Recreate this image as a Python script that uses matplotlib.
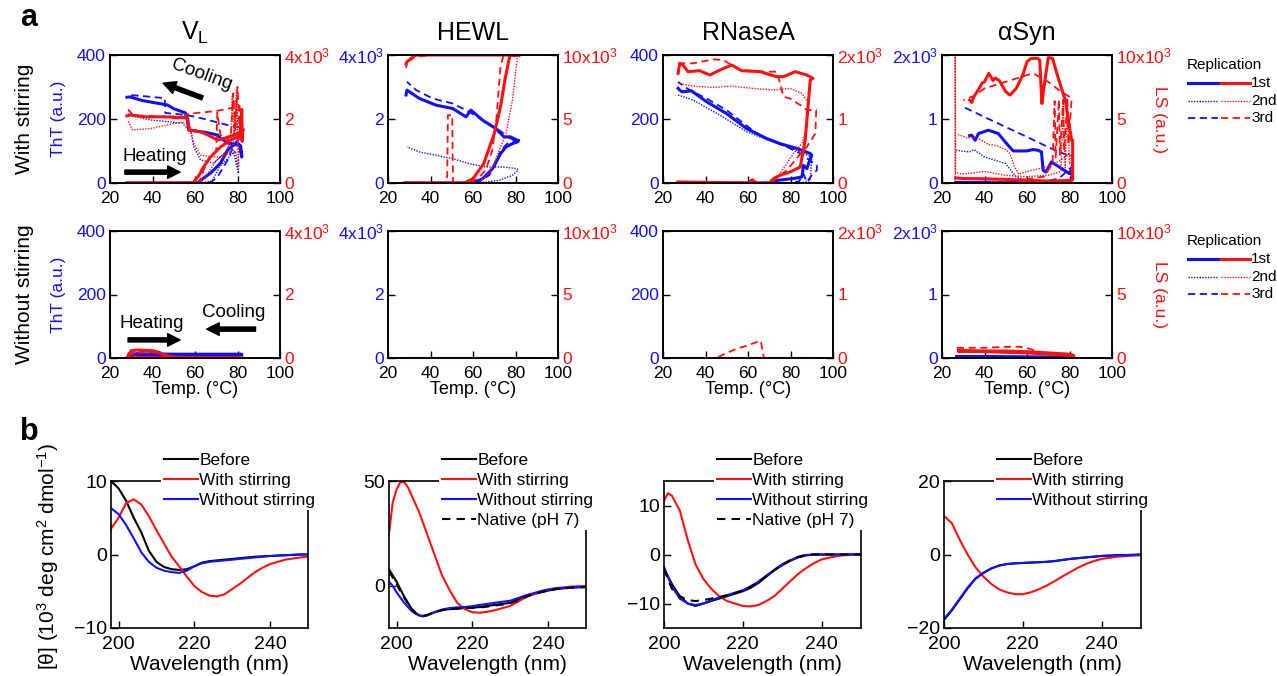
import matplotlib
matplotlib.use('Agg')
import matplotlib.pyplot as plt
from matplotlib.lines import Line2D

plt.rcParams['font.family'] = ['Liberation Sans', 'DejaVu Sans']
plt.rcParams['mathtext.default'] = 'regular'

W, H = 1277, 676
BLUE = '#1010ff'
RED = '#ff1010'

# ---------------- data: thermal scans, WITH stirring ----------------
# V_L (ThT 0-400, LS 0-4000)
VL_S_THT1_T = [28, 45, 60, 61, 64, 67.3, 72, 75.4, 78.2, 80, 81.5, 82, 82, 81, 79.2, 77, 75.4, 72, 70.6, 65, 60, 57, 56.4, 55.5, 50, 47, 40, 35, 32, 29.5, 28]
VL_S_THT1_V = [0, 0, 0, 0, 15, 31, 62, 103, 119, 125, 115, 85, 81, 118, 119, 124, 125, 140, 150, 158, 163, 166, 200, 219, 232, 244, 252, 258, 264, 269, 268]
VL_S_THT2_T = [28, 45, 60, 68, 71.5, 76, 79, 80.5, 80.5, 79.6, 77, 74, 68.8, 62.6, 59.5, 58, 54, 39, 30, 28.5]
VL_S_THT2_V = [0, 0, 0, 5, 50, 81, 100, 40, 30, 55, 127, 94, 62, 72, 112, 160, 187, 197, 210, 218]
VL_S_THT3_T = [28, 45, 60, 66, 68, 70.6, 75.4, 78, 80, 82, 83, 83, 78, 75.4, 62.6, 56.4, 46, 45.8, 38, 29.5, 28]
VL_S_THT3_V = [0, 0, 0, 0, 5, 19, 72, 115, 135, 150, 165, 172, 178, 181, 203, 212, 219, 265, 270, 275, 272]
VL_S_LS1_T = [28, 45, 58, 59.3, 62, 64, 67.3, 72, 76.8, 80, 81.5, 82, 82.2, 81.8, 81, 80, 78.2, 74, 70.6, 66, 62.6, 57.2, 56.6, 50, 45, 37.5, 33, 29.5, 28]
VL_S_LS1_V = [0, 0, 0, 20, 250, 500, 812, 1125, 1344, 1437, 1500, 2300, 1300, 2000, 1400, 1550, 1500, 1400, 1344, 1500, 1600, 1656, 2030, 2060, 2070, 2062, 2100, 2125, 2100]
VL_S_LS2_T = [28, 50, 62, 66, 70, 75, 77, 77.5, 78.5, 79.5, 80.5, 80.5, 79.5, 78, 77, 73, 68.8, 62.6, 59.5, 57.5, 54, 39, 30.5, 28.5]
VL_S_LS2_V = [0, 0, 0, 300, 700, 1000, 1400, 2700, 1500, 2900, 1000, 500, 2600, 1200, 1000, 810, 810, 870, 1230, 1800, 1910, 1700, 1656, 1960]
VL_S_LS3_T = [28, 50, 62, 64, 67, 70, 70.5, 72, 75, 77, 78, 79, 80, 81, 81, 80, 77.8, 70, 62.6, 56, 54, 39, 31, 28.5]
VL_S_LS3_V = [0, 0, 0, 400, 800, 1000, 2200, 1500, 1300, 1600, 2800, 1600, 3000, 1800, 2400, 2300, 2350, 2250, 2200, 2150, 2000, 2100, 2100, 2300]

# HEWL (ThT 0-4000, LS 0-10000)
HEWL_S_THT1_T = [28, 45, 60, 64.5, 69.2, 73, 75.5, 78.6, 81, 81.5, 80.8, 77.7, 74.6, 70.7, 64.5, 59, 56.7, 50.4, 42.6, 34.8, 28.9, 28.5]
HEWL_S_THT1_V = [0, 0, 0, 135, 449, 919, 1128, 1232, 1285, 1330, 1337, 1441, 1441, 1702, 1963, 2277, 2068, 2329, 2433, 2642, 2903, 2750]
HEWL_S_THT2_T = [28, 50, 62, 72.3, 78.6, 81.2, 80.8, 73.9, 66, 58.2, 50.4, 42.6, 34.8, 28.9]
HEWL_S_THT2_V = [0, 0, 0, 84, 240, 397, 449, 501, 501, 606, 762, 867, 971, 1128]
HEWL_S_THT3_T = [28, 45, 62, 67.6, 70.7, 73, 76.2, 80, 81.5, 80, 77.7, 72.3, 66, 58.2, 50.4, 41, 33.3, 28.9]
HEWL_S_THT3_V = [0, 0, 0, 240, 606, 1023, 1232, 1337, 1350, 1340, 1389, 1650, 1911, 2224, 2486, 2642, 2903, 3165]
HEWL_S_LS1_T = [28, 50, 56, 60, 65, 70, 73, 75, 77, 77.5, 82, 60, 40, 33, 31, 29, 28.5]
HEWL_S_LS1_V = [0, 0, 0, 340, 1500, 3860, 6000, 8040, 9700, 10000, 10000, 10000, 10000, 10000, 9700, 9500, 9300]
HEWL_S_LS2_T = [28, 55, 62, 66, 69.2, 75.5, 78.6, 81, 82, 40, 31, 29, 28.5]
HEWL_S_LS2_V = [0, 0, 0, 500, 1253, 3860, 6475, 10000, 10000, 10000, 9900, 9500, 9200]
HEWL_S_LS3_T = [28, 47.8, 48.2, 50.2, 50.6, 58, 62, 66, 69, 71, 73, 74.5, 82, 40, 31, 29, 28.5]
HEWL_S_LS3_V = [0, 0, 5300, 5300, 0, 0, 300, 1000, 2500, 5000, 9200, 10000, 10000, 10000, 9800, 9400, 9000]

# RNaseA (ThT 0-400, LS 0-2000)
RN_S_THT1_T = [27, 40, 60, 70, 73.5, 81.4, 85.4, 86.1, 87.7, 88.5, 89.6, 90, 89.3, 83, 75.1, 68.8, 59.4, 49.9, 40.5, 33.4, 29, 27.9, 27.1]
RN_S_THT1_V = [0, 0, 0, 0, 8, 14, 19, 55, 45, 61, 81, 87, 92, 108, 123, 139, 170, 217, 254, 288, 285, 290, 296]
RN_S_THT2_T = [27, 60, 85, 89.3, 90, 83, 72, 59.4, 46.8, 34.2, 27.1]
RN_S_THT2_V = [0, 0, 0, 8, 81, 102, 128, 160, 212, 259, 275]
RN_S_THT3_T = [27, 50, 80, 84, 86.1, 87.7, 90, 92.4, 92.4, 84.6, 78.3, 65, 49.9, 40.5, 32.6, 27.1]
RN_S_THT3_V = [0, 0, 0, 5, 29, 3, 24, 40, 55, 92, 113, 150, 228, 264, 290, 316]
RN_S_LS1_T = [27, 40, 60, 62, 64, 70, 72, 75, 79.8, 84.6, 86.9, 88.5, 89.3, 90.6, 87.7, 82.2, 76.7, 73.5, 65.7, 57, 52.3, 46.8, 42, 37.3, 31.8, 29.4, 27.9, 27.1]
RN_S_LS1_V = [16, 10, 0, 50, 0, 0, 68, 120, 172, 250, 668, 1295, 1608, 1634, 1687, 1739, 1661, 1661, 1739, 1755, 1843, 1765, 1687, 1755, 1739, 1843, 1870, 1713]
RN_S_LS2_T = [27, 50, 72, 75, 81.4, 85.4, 87.7, 88.5, 85.4, 79.8, 72, 62.5, 51.5, 43.6, 34.2, 27.1]
RN_S_LS2_V = [0, 0, 0, 146, 460, 616, 877, 1243, 1399, 1478, 1452, 1478, 1514, 1493, 1514, 1556]
RN_S_LS3_T = [27, 50, 70, 78.3, 85.4, 87.7, 91.7, 92.1, 91.7, 87.7, 84.6, 79.8, 76.7, 75.1, 73.5, 68.8, 56.2, 52.3, 48.3, 43.6, 34.2, 27.1]
RN_S_LS3_V = [0, 0, 0, 198, 486, 564, 773, 1138, 1138, 1138, 1217, 1321, 1347, 1556, 1739, 1739, 1765, 1843, 1922, 1932, 1870, 1870]

# alphaSyn (ThT 0-2000, LS 0-10000)
AS_S_THT1_T = [26.5, 40, 60, 80, 81.5, 80.8, 80, 71.5, 69, 67.6, 66.8, 65.2, 62.9, 59.8, 53.5, 50.4, 46.5, 41.8, 39.5, 37.2, 35.6, 34, 33]
AS_S_THT1_V = [10, 10, 5, 5, 60, 198, 146, 329, 172, 198, 486, 512, 522, 501, 501, 616, 773, 825, 799, 773, 668, 747, 740]
AS_S_THT2_T = [26.5, 50, 70, 80, 81, 80, 70, 60, 55, 53, 50, 45, 40, 35, 33, 29, 27, 26.5]
AS_S_THT2_V = [0, 0, 0, 5, 20, 10, 10, 42, 94, 172, 303, 355, 407, 522, 486, 500, 512, 480]
AS_S_THT3_T = [26.5, 50, 65, 75, 81, 81.5, 80.8, 70, 60, 50, 40, 30]
AS_S_THT3_V = [0, 0, 0, 70, 250, 450, 407, 560, 720, 875, 1030, 1190]
AS_S_LS1_T = [26.5, 30, 40, 50, 60, 70, 80, 81.5, 81.5, 81, 80, 78, 75, 72, 70, 68, 67, 66, 65, 62, 60, 58, 55, 52, 50, 47, 45, 44, 43, 42, 40, 39, 37, 35, 34, 33]
AS_S_LS1_V = [400, 350, 330, 280, 220, 150, 200, 300, 3340, 3340, 4390, 6475, 8040, 9740, 9800, 7520, 6210, 9600, 9740, 9740, 9480, 8430, 7400, 6870, 7130, 8000, 8200, 8000, 8300, 8560, 7900, 7830, 7260, 6736, 6300, 6475]
AS_S_LS2_T = [26.2, 26.2, 26.4, 30, 40, 50, 60, 70, 76, 77, 78, 79, 80, 81, 80, 75, 70, 65, 60, 56, 54, 52, 50, 46, 42, 38, 35, 32, 29, 27]
AS_S_LS2_V = [0, 10000, 800, 700, 900, 600, 500, 600, 900, 6400, 1200, 6200, 1500, 1800, 2300, 1700, 1300, 1100, 900, 700, 1300, 2300, 2600, 2900, 3000, 3400, 3600, 3500, 3700, 3800]
AS_S_LS3_T = [26.5, 40, 60, 68, 72, 73, 73.5, 75, 75.5, 77, 77.5, 79, 79.5, 81, 81, 80, 75, 70, 63, 60, 50, 40, 35, 30]
AS_S_LS3_V = [0, 0, 300, 500, 1500, 6400, 2000, 6500, 2200, 6500, 2500, 6500, 3000, 6600, 6600, 6736, 7260, 7900, 8560, 8430, 7910, 7390, 6800, 6475]

# ---------------- data: thermal scans, WITHOUT stirring ----------------
VL_N_THT1_T = [29, 50, 82, 82, 50, 29]
VL_N_THT1_V = [8, 8, 8, 12, 12, 13]
VL_N_THT2_T = [29, 82, 29]
VL_N_THT2_V = [4, 5, 6]
VL_N_THT3_T = [29, 82, 29]
VL_N_THT3_V = [10, 10, 15]
VL_N_LS1_T = [28, 30, 33, 36, 40, 43, 46, 50, 60, 70, 82, 82, 60, 40, 30, 28]
VL_N_LS1_V = [0, 230, 250, 240, 230, 180, 90, 30, 10, 5, 0, 0, 5, 10, 20, 0]
VL_N_LS2_T = [28, 35, 40, 45, 50, 82]
VL_N_LS2_V = [0, 150, 150, 100, 20, 0]
VL_N_LS3_T = [28, 35, 42, 48, 82]
VL_N_LS3_V = [100, 200, 180, 40, 0]

HEWL_N_THT1_T = [28, 84]
HEWL_N_THT1_V = [0, 0]
HEWL_N_LS1_T = [28, 84]
HEWL_N_LS1_V = [0, 0]

RN_N_THT1_T = [24, 91]
RN_N_THT1_V = [0, 0]
RN_N_LS1_T = [24, 91]
RN_N_LS1_V = [0, 0]
RN_N_LS3_T = [24, 45, 50, 55, 60, 64, 66, 67.5, 91]
RN_N_LS3_V = [0, 0, 80, 150, 200, 250, 270, 0, 0]

AS_N_THT1_T = [27, 82, 27]
AS_N_THT1_V = [20, 10, 15]
AS_N_LS1_T = [28, 40, 50, 60, 70, 80, 82, 70, 60, 50, 40, 28]
AS_N_LS1_V = [500, 550, 550, 500, 400, 300, 200, 300, 400, 450, 500, 600]
AS_N_LS2_T = [27, 40, 60, 82]
AS_N_LS2_V = [700, 600, 400, 150]
AS_N_LS3_T = [27, 40, 50, 56, 60, 65, 80]
AS_N_LS3_V = [800, 800, 880, 890, 800, 500, 200]

# ---------------- data: CD spectra ----------------
VL_WL = [198, 200, 202, 204, 206, 208, 210, 212, 214, 216, 218, 220, 222, 224, 226, 228, 230, 232, 234, 236, 238, 240, 244, 248, 250]
VL_BEFORE = [10, 9, 7.3, 5, 3, 0.5, -1.0, -1.7, -2.0, -2.1, -2.0, -1.6, -1.1, -0.9, -0.8, -0.7, -0.6, -0.5, -0.4, -0.3, -0.25, -0.2, -0.1, 0, 0]
VL_WITH = [3.5, 5, 7, 7.5, 6.8, 5.2, 3.3, 1.5, -0.3, -1.6, -3.0, -4.3, -5.1, -5.6, -5.7, -5.4, -4.7, -4.0, -3.2, -2.4, -1.8, -1.3, -0.7, -0.4, -0.3]
VL_WITHOUT = [6.3, 5.5, 4.0, 2.2, 0.3, -1.0, -1.8, -2.2, -2.4, -2.5, -2.2, -1.6, -1.2, -1.0, -0.9, -0.8, -0.7, -0.6, -0.5, -0.4, -0.3, -0.2, -0.1, 0, 0]

HEWL_WL = [198, 199, 200, 201, 202, 203, 204, 205, 206, 207, 208, 210, 212, 214, 216, 218, 220, 222, 224, 226, 228, 230, 232, 234, 236, 238, 240, 242, 246, 250]
HEWL_BEFORE = [8, 5, 2, -1.5, -5, -8, -11, -12.8, -14, -14.5, -14, -12.5, -11.5, -11, -10.7, -10.5, -10.3, -10, -9.5, -9, -8.5, -8, -6.5, -5, -4, -3, -2.2, -1.5, -0.8, -0.5]
HEWL_WITH = [25, 40, 46, 49.5, 49.5, 47, 43, 39, 35, 30, 25, 15, 5, -2, -8, -11, -12.5, -12.7, -12.3, -11.5, -10.5, -9.5, -7.5, -5.5, -4, -2.5, -1.6, -1, -0.3, 0]
HEWL_WITHOUT = [2, 0, -3, -5.5, -8, -10, -12, -13.2, -14, -14.2, -14, -12.5, -11.2, -10.5, -10.2, -10, -9.6, -9, -8.5, -8, -7.5, -7, -5.8, -4.5, -3.5, -2.5, -1.8, -1.2, -0.6, -0.3]
HEWL_NATIVE = [7, 4, 1, -2.5, -5.5, -8.5, -11, -12.8, -13.8, -14.2, -13.8, -12.5, -11.5, -11, -10.8, -10.6, -10.4, -10.2, -9.8, -9.3, -8.8, -8.2, -6.8, -5.2, -4, -3, -2.2, -1.5, -0.8, -0.5]

RN_WL = [200, 201, 202, 204, 206, 208, 210, 212, 214, 216, 218, 220, 222, 224, 226, 228, 230, 232, 234, 236, 238, 240, 244, 248, 250]
RN_BEFORE = [-3, -4.5, -6, -8.5, -10, -10.5, -10, -9.5, -9, -8.5, -8, -7.5, -6.8, -5.8, -4.5, -3.2, -2.2, -1.3, -0.6, -0.2, 0, 0, 0, 0, 0]
RN_WITH = [11, 12.5, 12, 9, 3, -2, -5, -7, -8.5, -9.5, -10, -10.5, -10.6, -10.3, -9.5, -8.5, -7, -5.5, -4, -2.8, -1.8, -1, -0.3, 0, 0]
RN_WITHOUT = [-2.5, -4.5, -6.5, -9, -10, -10.3, -10, -9.3, -8.8, -8.3, -7.8, -7.3, -6.5, -5.5, -4.3, -3.1, -2.0, -1.2, -0.5, -0.1, 0, 0, 0, 0, 0]
RN_NATIVE = [-3, -5, -7, -8.5, -9.3, -9.5, -9.3, -9, -8.7, -8.3, -7.9, -7.3, -6.6, -5.6, -4.4, -3.2, -2.1, -1.2, -0.5, -0.1, 0, 0, 0, 0, 0]

AS_WL = [200, 202, 204, 206, 208, 210, 212, 214, 216, 218, 220, 222, 224, 226, 228, 230, 232, 234, 236, 238, 240, 244, 248, 250]
AS_BEFORE = [-17.8, -15.2, -12.2, -9.2, -6.6, -5.0, -3.8, -3.0, -2.6, -2.4, -2.3, -2.2, -2.1, -2.0, -1.8, -1.5, -1.2, -1.0, -0.8, -0.6, -0.4, -0.2, -0.1, 0]
AS_WITH = [10.5, 8.5, 4, 0, -3.5, -6, -8, -9.5, -10.3, -10.8, -10.8, -10.3, -9.5, -8.5, -7.3, -6, -4.8, -3.6, -2.6, -1.8, -1.2, -0.6, -0.3, -0.2]
AS_WITHOUT = [-17.5, -15, -12, -9, -6.5, -5, -3.8, -3, -2.6, -2.4, -2.3, -2.2, -2.1, -2.0, -1.8, -1.5, -1.2, -1.0, -0.8, -0.6, -0.4, -0.2, -0.1, 0]

TITLES = ['V$_L$', 'HEWL', 'RNaseA', 'αSyn']
THT_LIMS = [400, 4000, 400, 2000]
THT_TICKLABELS = [['0', '200', '400'], ['0', '2', '4x10$^3$'], ['0', '200', '400'], ['0', '1', '2x10$^3$']]
LS_LIMS = [4000, 10000, 2000, 10000]
LS_TICKLABELS = [['0', '2', '4x10$^3$'], ['0', '5', '10x10$^3$'], ['0', '1', '2x10$^3$'], ['0', '5', '10x10$^3$']]
TEMP_TICKS = [20, 40, 60, 80, 100]
REP_LABELS = ['1st', '2nd', '3rd']
CD_LABELS = ['Before', 'With stirring', 'Without stirring', 'Native (pH 7)']

# ---------------- figure ----------------
fig = plt.figure(figsize=(W / 100, H / 100), dpi=100)


def fx(px):
    return px / W


def fy(py):
    return 1 - py / H


def add_ax(left, top, width, height):
    return fig.add_axes([fx(left), fy(top + height), width / W, height / H])


STYLES = [dict(ls='-', lw=2.2), dict(ls=(0, (1, 1)), lw=1.0), dict(ls=(0, (4, 2.5)), lw=1.3)]

TOP_LEFTS = [110, 388, 663, 942]
ROW_TOPS = [55, 231]
ROW_H = [128, 127]

stir = [
    [[(VL_S_THT1_T, VL_S_THT1_V), (VL_S_THT2_T, VL_S_THT2_V), (VL_S_THT3_T, VL_S_THT3_V)],
     [(VL_S_LS1_T, VL_S_LS1_V), (VL_S_LS2_T, VL_S_LS2_V), (VL_S_LS3_T, VL_S_LS3_V)]],
    [[(HEWL_S_THT1_T, HEWL_S_THT1_V), (HEWL_S_THT2_T, HEWL_S_THT2_V), (HEWL_S_THT3_T, HEWL_S_THT3_V)],
     [(HEWL_S_LS1_T, HEWL_S_LS1_V), (HEWL_S_LS2_T, HEWL_S_LS2_V), (HEWL_S_LS3_T, HEWL_S_LS3_V)]],
    [[(RN_S_THT1_T, RN_S_THT1_V), (RN_S_THT2_T, RN_S_THT2_V), (RN_S_THT3_T, RN_S_THT3_V)],
     [(RN_S_LS1_T, RN_S_LS1_V), (RN_S_LS2_T, RN_S_LS2_V), (RN_S_LS3_T, RN_S_LS3_V)]],
    [[(AS_S_THT1_T, AS_S_THT1_V), (AS_S_THT2_T, AS_S_THT2_V), (AS_S_THT3_T, AS_S_THT3_V)],
     [(AS_S_LS1_T, AS_S_LS1_V), (AS_S_LS2_T, AS_S_LS2_V), (AS_S_LS3_T, AS_S_LS3_V)]],
]
nostir = [
    [[(VL_N_THT1_T, VL_N_THT1_V), (VL_N_THT2_T, VL_N_THT2_V), (VL_N_THT3_T, VL_N_THT3_V)],
     [(VL_N_LS1_T, VL_N_LS1_V), (VL_N_LS2_T, VL_N_LS2_V), (VL_N_LS3_T, VL_N_LS3_V)]],
    [[(HEWL_N_THT1_T, HEWL_N_THT1_V), None, None],
     [(HEWL_N_LS1_T, HEWL_N_LS1_V), None, None]],
    [[(RN_N_THT1_T, RN_N_THT1_V), None, None],
     [(RN_N_LS1_T, RN_N_LS1_V), None, (RN_N_LS3_T, RN_N_LS3_V)]],
    [[(AS_N_THT1_T, AS_N_THT1_V), None, None],
     [(AS_N_LS1_T, AS_N_LS1_V), (AS_N_LS2_T, AS_N_LS2_V), (AS_N_LS3_T, AS_N_LS3_V)]],
]

ARROW = dict(facecolor='black', edgecolor='black', width=3, headwidth=9, headlength=9, shrink=0)
TICKFS = 12.5
for r, rowdata in enumerate([stir, nostir]):
    for c in range(4):
        ax = add_ax(TOP_LEFTS[c], ROW_TOPS[r], 170, ROW_H[r])
        ax2 = ax.twinx()
        tht, ls = rowdata[c]
        for k, cur in enumerate(tht):
            if cur is not None:
                ax.plot(cur[0], cur[1], color=BLUE, **STYLES[k])
        for k, cur in enumerate(ls):
            if cur is not None:
                ax2.plot(cur[0], cur[1], color=RED, **STYLES[k])
        ax.set_xlim(20, 100)
        ax.set_ylim(0, THT_LIMS[c])
        ax2.set_ylim(0, LS_LIMS[c])
        ax.set_xticks(TEMP_TICKS)
        ax.set_yticks([0, THT_LIMS[c] / 2, THT_LIMS[c]])
        ax.set_yticklabels(THT_TICKLABELS[c])
        ax2.set_yticks([0, LS_LIMS[c] / 2, LS_LIMS[c]])
        ax2.set_yticklabels(LS_TICKLABELS[c])
        ax.tick_params(axis='both', direction='in', length=5, width=1, labelsize=TICKFS, pad=3)
        ax.tick_params(axis='x', pad=6)
        ax.tick_params(axis='y', colors='black', labelcolor=BLUE)
        ax2.tick_params(axis='y', direction='in', length=5, width=1, labelsize=TICKFS, pad=3,
                        colors='black', labelcolor=RED)
        for a in (ax, ax2):
            for s in a.spines.values():
                s.set_linewidth(1.2)
        if r == 0:
            ax.set_title(TITLES[c], fontsize=18, pad=11)
        else:
            ax.set_xlabel('Temp. (°C)', fontsize=13, labelpad=0)
        if c == 0:
            if r == 0:
                ax.annotate('', xy=(45, 312), xytext=(63.5, 266), arrowprops=ARROW)
                ax.text(63, 338, 'Cooling', rotation=-20, fontsize=13.5, ha='center', va='center')
                ax.annotate('', xy=(53, 34), xytext=(27, 34), arrowprops=ARROW)
                ax.text(41, 84, 'Heating', fontsize=13.5, ha='center', va='center')
            else:
                ax.annotate('', xy=(53, 57), xytext=(28.5, 57), arrowprops=ARROW)
                ax.text(39.5, 110, 'Heating', fontsize=13.5, ha='center', va='center')
                ax.annotate('', xy=(65.5, 91), xytext=(88.5, 91), arrowprops=ARROW)
                ax.text(78, 142, 'Cooling', fontsize=13.5, ha='center', va='center')

    cy = ROW_TOPS[r] + ROW_H[r] / 2
    fig.text(fx(58), fy(cy), 'ThT (a.u.)', rotation=90, color=BLUE, fontsize=12.5,
             ha='center', va='center')
    fig.text(fx(25), fy(cy), ['With stirring', 'Without stirring'][r], rotation=90,
             fontsize=15, ha='center', va='center')
    fig.text(fx(1160), fy(cy), 'LS (a.u.)', rotation=270, color=RED, fontsize=12.5,
             ha='center', va='center')
    # replication legend
    off = ROW_TOPS[r] - 55
    fig.text(fx(1187), fy(65 + off), 'Replication', fontsize=11, ha='left', va='center')
    for k in range(3):
        yy = fy(83 + off + 17.6 * k)
        st = STYLES[k]
        fig.add_artist(Line2D([fx(1188), fx(1218)], [yy, yy], color=BLUE, transform=fig.transFigure, **st))
        fig.add_artist(Line2D([fx(1221), fx(1250)], [yy, yy], color=RED, transform=fig.transFigure, **st))
        fig.text(fx(1251), yy, REP_LABELS[k], fontsize=11, ha='left', va='center')

fig.text(fx(20), fy(18), 'a', fontsize=22, fontweight='bold', ha='left', va='center')
fig.text(fx(20), fy(432), 'b', fontsize=22, fontweight='bold', ha='left', va='center')

# ---------------- CD panels ----------------
CD_LEFTS = [111, 389, 664, 944]
cd_sets = [
    (VL_WL, [VL_BEFORE, VL_WITH, VL_WITHOUT], (198, 250), (-10, 10), [-10, 0, 10]),
    (HEWL_WL, [HEWL_BEFORE, HEWL_WITH, HEWL_WITHOUT, HEWL_NATIVE], (198, 250), (-20, 50), [0, 50]),
    (RN_WL, [RN_BEFORE, RN_WITH, RN_WITHOUT, RN_NATIVE], (200, 250), (-15, 15), [-10, 0, 10]),
    (AS_WL, [AS_BEFORE, AS_WITH, AS_WITHOUT], (200, 250), (-20, 20), [-20, 0, 20]),
]
CD_COLORS = ['black', RED, BLUE, 'black']
CD_LS = ['-', '-', '-', (0, (4, 3))]
for c, (wl, series, xl, yl, yt) in enumerate(cd_sets):
    ax = add_ax(CD_LEFTS[c], 481, 197, 147)
    handles = []
    for k, s in enumerate(series):
        h, = ax.plot(wl, s, color=CD_COLORS[k], ls=CD_LS[k], lw=1.5)
        handles.append(h)
    ax.set_xlim(*xl)
    ax.set_ylim(*yl)
    ax.set_xticks([200, 220, 240])
    ax.set_yticks(yt)
    ax.tick_params(direction='in', length=5, width=1, labelsize=14, pad=3)
    ax.tick_params(axis='x', pad=6)
    for s in ax.spines.values():
        s.set_linewidth(1.2)
    ax.set_xlabel('Wavelength (nm)', fontsize=15, labelpad=1)
    leg = ax.legend(handles, CD_LABELS[:len(series)], loc='upper left',
                    bbox_to_anchor=(fx(CD_LEFTS[c] + 50), fy(450)), bbox_transform=fig.transFigure,
                    frameon=True, fancybox=False, edgecolor='none', facecolor='white', framealpha=1,
                    borderpad=0.15, borderaxespad=0, handlelength=2.0, handletextpad=0.05,
                    labelspacing=0.28, fontsize=12.5)
    leg.set_zorder(10)

fig.text(fx(48), fy(556), '[θ] (10$^3$ deg cm$^2$ dmol$^{-1}$)', rotation=90, fontsize=15,
         ha='center', va='center')

fig.savefig('out.png', dpi=100)
